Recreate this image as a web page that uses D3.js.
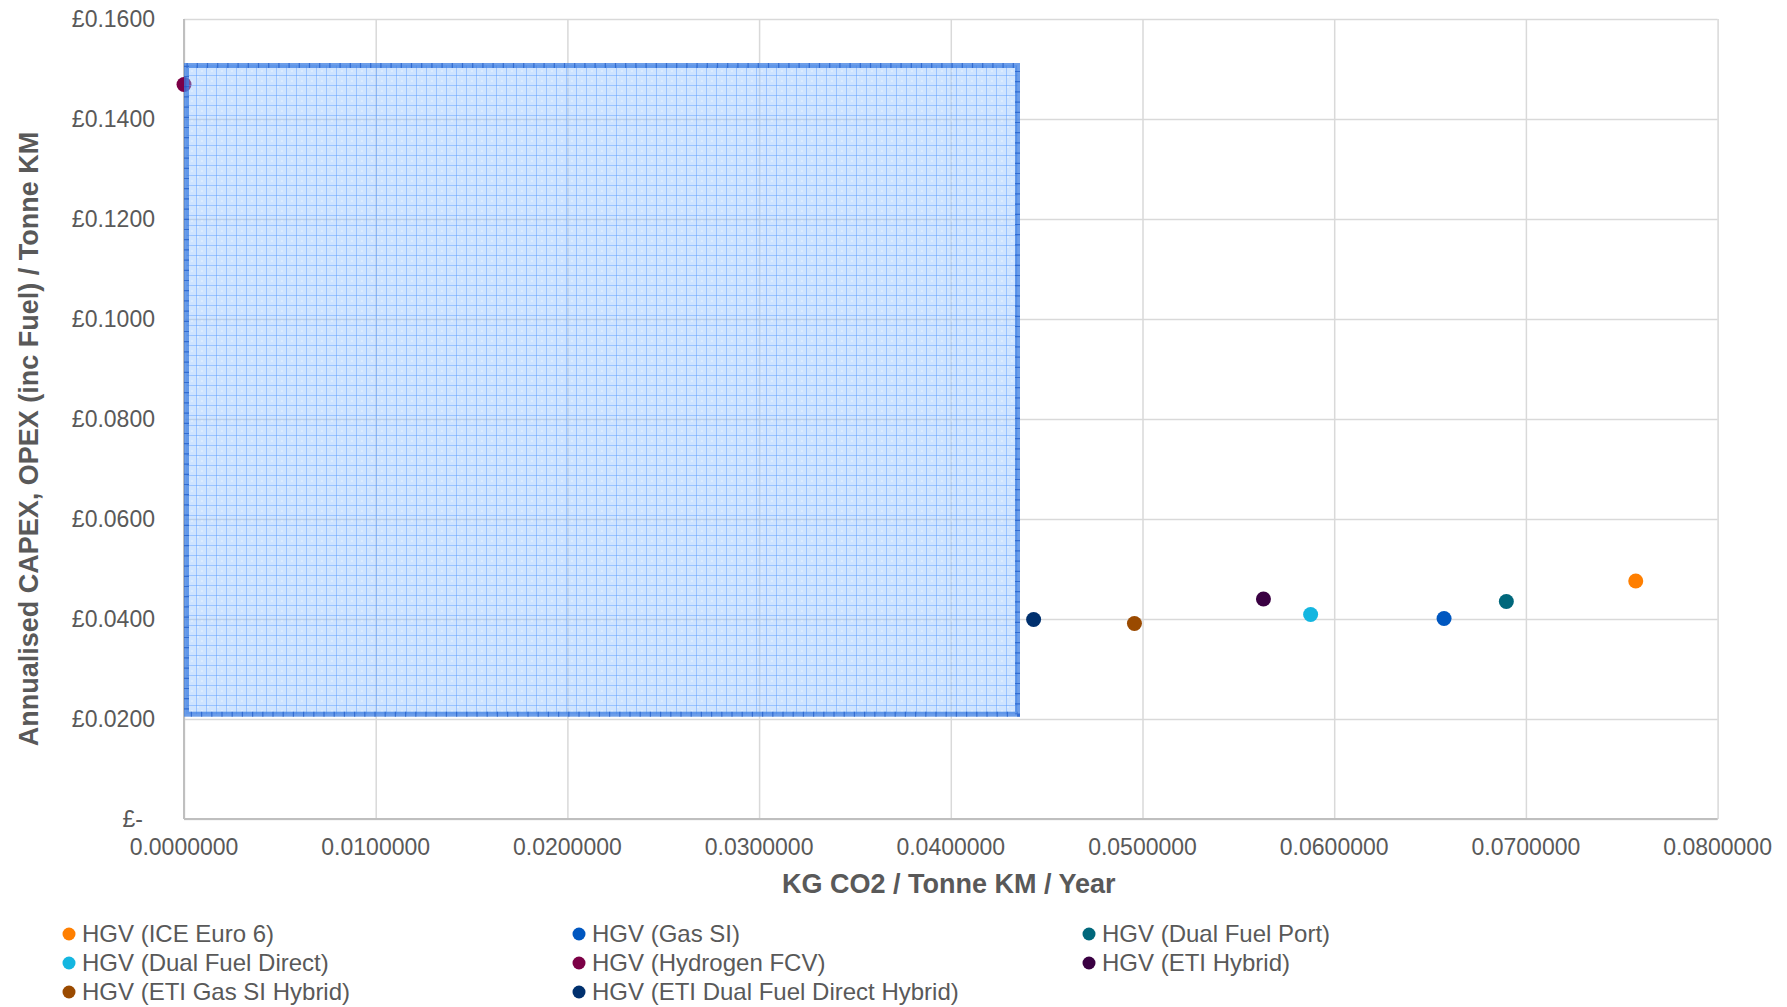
<!DOCTYPE html>
<html>
<head>
<meta charset="utf-8">
<script src="https://cdn.jsdelivr.net/npm/d3@7"></script>
<style>
    body { margin: 0; background: #fff; }
    svg { display: block; font-family: "Liberation Sans", Arial, sans-serif; }
</style>
</head>
<body>
<svg id="chart" width="1787" height="1007"></svg>
<script>
// series shown in the legend, in legend order (row by row)
const seriesNames = [
    "HGV (ICE Euro 6)", "HGV (Gas SI)", "HGV (Dual Fuel Port)",
    "HGV (Dual Fuel Direct)", "HGV (Hydrogen FCV)", "HGV (ETI Hybrid)",
    "HGV (ETI Gas SI Hybrid)", "HGV (ETI Dual Fuel Direct Hybrid)"
];
const co2Values = [0.07573, 0.06573, 0.06898, 0.05877, 0.0000, 0.05631, 0.04958, 0.04432];
const costValues = [0.0476, 0.0401, 0.0435, 0.0409, 0.1469, 0.0440, 0.0391, 0.0399];
const seriesColors = ["#ff7f00", "#0057c0", "#00677b", "#14b6e0", "#7c0046", "#3a0042", "#9a4a00", "#00306e"];

const xTicks = [0, 0.01, 0.02, 0.03, 0.04, 0.05, 0.06, 0.07, 0.08];
const yTicks = [0, 0.02, 0.04, 0.06, 0.08, 0.10, 0.12, 0.14, 0.16];

// highlighted area [x0, x1] and [y0, y1] in data units
const boxX = [0, 0.04361];
const boxY = [0.02046, 0.1512];

const xTitle = "KG CO2 / Tonne KM / Year";
const yTitle = "Annualised CAPEX, OPEX (inc Fuel) / Tonne KM";

const textColor = "#595959";
const margin = { left: 184, right: 1787 - 1717.6, top: 19, bottom: 1007 - 819 };
const width = 1787, height = 1007;

const svg = d3.select("#chart");

const x = d3.scaleLinear().domain([0, 0.08]).range([margin.left, width - margin.right]);
const y = d3.scaleLinear().domain([0, 0.16]).range([height - margin.bottom, margin.top]);

// hatched fill for the highlight box
const defs = svg.append("defs");
const pat = defs.append("pattern")
    .attr("id", "grid-pat")
    .attr("patternUnits", "userSpaceOnUse")
    .attr("width", 10).attr("height", 10)
    .attr("x", x(boxX[0]) + 2).attr("y", y(boxY[1]) + 2);
pat.append("rect").attr("width", 10).attr("height", 10).attr("fill", "rgba(140,190,255,0.42)");
pat.append("rect").attr("x", 1).attr("y", 1).attr("width", 2).attr("height", 2).attr("fill", "rgba(255,255,255,0.25)");
pat.append("rect").attr("x", 5).attr("y", 5).attr("width", 2).attr("height", 2).attr("fill", "rgba(255,255,255,0.25)");
pat.append("line").attr("x1", 0).attr("x2", 10).attr("y1", 0.5).attr("y2", 0.5)
    .attr("stroke", "rgba(90,155,255,0.45)").attr("stroke-width", 1);
pat.append("line").attr("x1", 0.5).attr("x2", 0.5).attr("y1", 0).attr("y2", 10)
    .attr("stroke", "rgba(90,155,255,0.45)").attr("stroke-width", 1);

// gridlines
svg.append("g")
    .attr("transform", `translate(0,${height - margin.bottom})`)
    .call(d3.axisBottom(x).tickValues(xTicks).tickSize(-(height - margin.top - margin.bottom)).tickFormat(""))
    .call(g => g.select(".domain").remove())
    .call(g => g.selectAll("line").attr("stroke", "#d9d9d9").attr("stroke-width", 1.5));

svg.append("g")
    .attr("transform", `translate(${margin.left},0)`)
    .call(d3.axisLeft(y).tickValues(yTicks).tickSize(-(width - margin.left - margin.right)).tickFormat(""))
    .call(g => g.select(".domain").remove())
    .call(g => g.selectAll("line").attr("stroke", "#d9d9d9").attr("stroke-width", 1.5));

// axis lines
svg.append("line")
    .attr("x1", x(0)).attr("x2", x(0.08)).attr("y1", y(0)).attr("y2", y(0))
    .attr("stroke", "#bfbfbf").attr("stroke-width", 2);
svg.append("line")
    .attr("x1", x(0)).attr("x2", x(0)).attr("y1", y(0)).attr("y2", y(0.16))
    .attr("stroke", "#bfbfbf").attr("stroke-width", 2);

// tick labels
svg.append("g").selectAll("text")
    .data(xTicks)
    .join("text")
    .attr("x", d => x(d))
    .attr("y", 855)
    .attr("text-anchor", "middle")
    .attr("font-size", 23)
    .attr("fill", textColor)
    .text(d => d.toFixed(7));

svg.append("g").selectAll("text")
    .data(yTicks)
    .join("text")
    .attr("x", d => d === 0 ? 143 : 155)
    .attr("y", d => y(d) + 8)
    .attr("text-anchor", "end")
    .attr("font-size", 23)
    .attr("fill", textColor)
    .text(d => d === 0 ? "£-" : "£" + d.toFixed(4));

// axis titles
svg.append("text")
    .attr("x", (x(0) + x(0.08)) / 2 - 2)
    .attr("y", 893)
    .attr("text-anchor", "middle")
    .attr("font-size", 27)
    .attr("font-weight", "bold")
    .attr("fill", textColor)
    .text(xTitle);

svg.append("text")
    .attr("transform", "translate(38,439) rotate(-90)")
    .attr("text-anchor", "middle")
    .attr("font-size", 27)
    .attr("font-weight", "bold")
    .attr("fill", textColor)
    .text(yTitle);

// points
const points = seriesNames.map((name, i) => ({ name, cx: co2Values[i], cy: costValues[i], color: seriesColors[i] }));

svg.append("g").selectAll("circle")
    .data(points)
    .join("circle")
    .attr("cx", d => x(d.cx))
    .attr("cy", d => y(d.cy))
    .attr("r", 7.5)
    .attr("fill", d => d.color);

// highlight box on top (translucent)
const bx = x(boxX[0]) + 2.5, by = y(boxY[1]) + 2.5;
const bw = x(boxX[1]) - x(boxX[0]) - 5, bh = y(boxY[0]) - y(boxY[1]) - 5;
svg.append("rect")
    .attr("x", bx).attr("y", by).attr("width", bw).attr("height", bh)
    .attr("fill", "url(#grid-pat)")
    .attr("stroke", "rgba(60,125,225,0.75)")
    .attr("stroke-width", 5);
svg.append("rect")
    .attr("x", bx).attr("y", by).attr("width", bw).attr("height", bh)
    .attr("fill", "none")
    .attr("stroke", "rgba(30,90,200,0.7)")
    .attr("stroke-width", 5)
    .attr("stroke-dasharray", "1.2,9");

// legend
const legendCols = [69, 579, 1089];
const legendRows = [934, 963, 992];
const legend = svg.append("g").selectAll("g")
    .data(points)
    .join("g")
    .attr("transform", (d, i) => `translate(${legendCols[i % 3]},${legendRows[Math.floor(i / 3)]})`);

legend.append("circle").attr("r", 6.5).attr("fill", d => d.color);
legend.append("text")
    .attr("x", 13)
    .attr("y", 8)
    .attr("font-size", 24)
    .attr("fill", textColor)
    .text(d => d.name);
</script>
</body>
</html>
